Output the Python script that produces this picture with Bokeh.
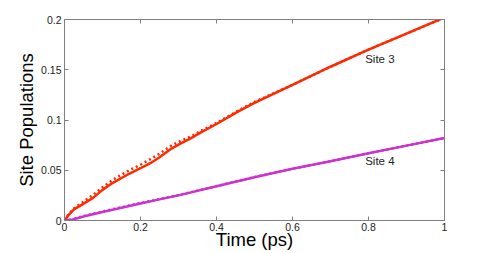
from bokeh.plotting import figure
from bokeh.models import Range1d, LinearAxis, FixedTicker, Label
from bokeh.embed import file_html
from bokeh.resources import INLINE

# Data
t3 = [0, 0.01, 0.025, 0.045, 0.075, 0.10, 0.125, 0.17, 0.2, 0.226, 0.25, 0.279, 0.305, 0.332, 0.358, 0.4, 0.46, 0.5, 0.6, 0.7, 0.8, 0.9, 1.0]
site3_solid = [0, 0.005, 0.011, 0.0155, 0.0225, 0.0305, 0.037, 0.0465, 0.052, 0.057, 0.063, 0.071, 0.0765, 0.0818, 0.0874, 0.096, 0.109, 0.117, 0.135, 0.153, 0.170, 0.186, 0.202]
site3_dotted = [0, 0.006, 0.012, 0.0175, 0.0255, 0.0330, 0.040, 0.0500, 0.0555, 0.061, 0.0665, 0.074, 0.0790, 0.0835, 0.0890, 0.097, 0.110, 0.118, 0.135, 0.153, 0.170, 0.186, 0.202]

t4 = [0, 0.02, 0.05, 0.1, 0.2, 0.25, 0.3, 0.4, 0.5, 0.6, 0.7, 0.8, 0.9, 1.0]
site4_solid = [0, 0.0008, 0.004, 0.0085, 0.017, 0.021, 0.025, 0.034, 0.043, 0.0515, 0.059, 0.067, 0.0745, 0.082]
site4_dotted = [0, 0.0012, 0.0045, 0.009, 0.0175, 0.0213, 0.0253, 0.0342, 0.0432, 0.0515, 0.059, 0.067, 0.0745, 0.082]

x_ticks = [0, 0.2, 0.4, 0.6, 0.8, 1.0]
x_tick_labels = ["0", "0.2", "0.4", "0.6", "0.8", "1"]
y_ticks = [0, 0.05, 0.1, 0.15, 0.2]
y_tick_labels = ["0", "0.05", "0.1", "0.15", "0.2"]

labels = [("Site 3", 0.83, 0.161), ("Site 4", 0.83, 0.0594)]

RED = "#ff2a00"
MAG = "#cc33cc"
GRAY = "#808080"
FONT = "Liberation Sans"

p = figure(width=475, height=252, output_backend="svg", toolbar_location=None,
           x_range=Range1d(0, 1), y_range=Range1d(0, 0.2),
           min_border_left=64, min_border_top=19, min_border_right=31, min_border_bottom=30)
p.grid.visible = False
p.outline_line_color = GRAY
p.background_fill_color = "white"
p.border_fill_color = "white"

p.line(t3, site3_solid, line_color=RED, line_width=2.5)
p.line(t3, site3_dotted, line_color=RED, line_width=2.5, line_dash="2 3")
p.line(t4, site4_solid, line_color=MAG, line_width=2.5)
p.line(t4, site4_dotted, line_color=MAG, line_width=2.5, line_dash="2 3")

for ax, ticks, lbls in ((p.xaxis[0], x_ticks, x_tick_labels), (p.yaxis[0], y_ticks, y_tick_labels)):
    ax.ticker = FixedTicker(ticks=ticks)
    ax.major_label_overrides = {tk: lb for tk, lb in zip(ticks, lbls)}
    ax.major_tick_in = 4
    ax.major_tick_out = 0
    ax.minor_tick_line_color = None
    ax.axis_line_color = GRAY
    ax.major_tick_line_color = GRAY
    ax.major_label_text_font = FONT
    ax.major_label_text_font_size = "10.5px"
    ax.major_label_text_color = "#222222"
    ax.axis_label_text_font = FONT
    ax.axis_label_text_font_size = "18.5px"
    ax.axis_label_text_font_style = "normal"
    ax.axis_label_text_color = "black"

p.xaxis[0].axis_label = "Time (ps)"
p.yaxis[0].axis_label = "Site Populations"
p.xaxis[0].major_label_standoff = 2
p.xaxis[0].axis_label_standoff = -5
p.yaxis[0].major_label_standoff = 3
p.yaxis[0].axis_label_standoff = 1

top = LinearAxis(ticker=FixedTicker(ticks=x_ticks), major_label_text_font_size="0px",
                 major_tick_in=4, major_tick_out=0, minor_tick_line_color=None,
                 axis_line_color=GRAY, major_tick_line_color=GRAY)
right = LinearAxis(ticker=FixedTicker(ticks=y_ticks), major_label_text_font_size="0px",
                   major_tick_in=4, major_tick_out=0, minor_tick_line_color=None,
                   axis_line_color=GRAY, major_tick_line_color=GRAY)
top.major_label_standoff = 0
right.major_label_standoff = 0
p.add_layout(top, "above")
p.add_layout(right, "right")

for txt, x, y in labels:
    p.add_layout(Label(x=x, y=y, text=txt, text_font=FONT, text_font_size="11.5px",
                       text_align="center", text_baseline="middle", text_color="#222222"))

open("out.html", "w").write(file_html(p, INLINE))
